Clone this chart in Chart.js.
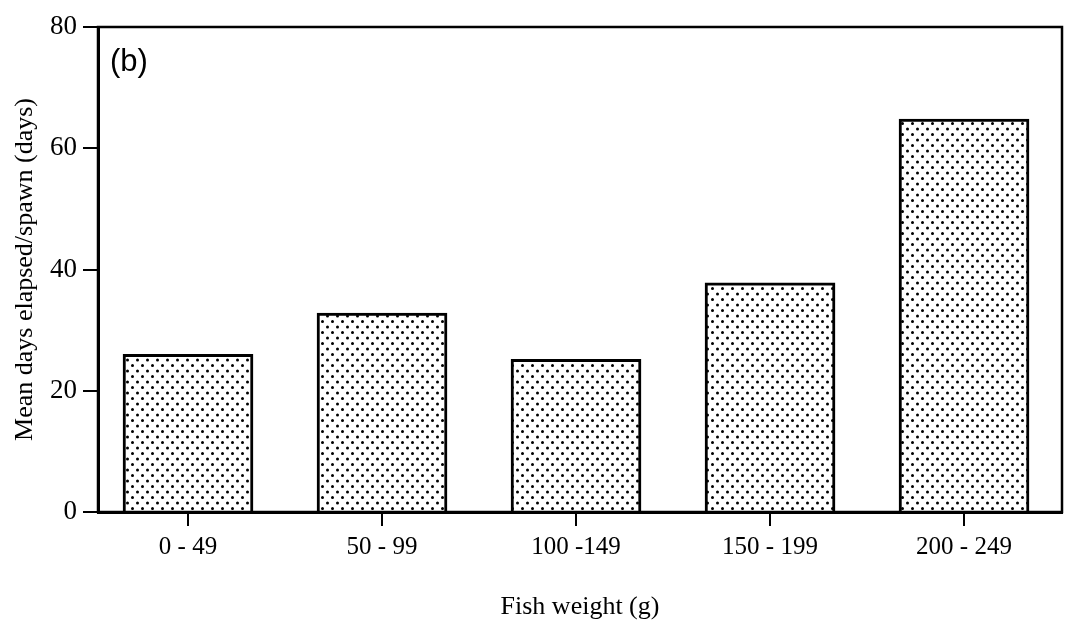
<!DOCTYPE html>
<html>
<head>
<meta charset="utf-8">
<script src="https://cdn.jsdelivr.net/npm/chart.js@4.4.1/dist/chart.umd.min.js"></script>
<style>
  html, body { margin: 0; padding: 0; background: #fff; }
  #wrap { width: 1067px; height: 625px; }
</style>
</head>
<body>
<div id="wrap"><canvas id="c"></canvas></div>
<script>
// datos (b)
const categories = ['0 - 49', '50 - 99', '100 -149', '150 - 199', '200 - 249'];
const meanDays = [26, 32.8, 25.2, 37.8, 64.8];
const yTicks = [0, 20, 40, 60, 80];

const serif = 'Liberation Serif';
const canvas = document.getElementById('c');
const ctx = canvas.getContext('2d');

// relleno punteado como en el original
function dotPattern() {
  const p = document.createElement('canvas');
  p.width = 10;
  p.height = 11;
  const g = p.getContext('2d');
  g.fillStyle = '#fff';
  g.fillRect(0, 0, 10, 11);
  g.fillStyle = '#000';
  g.beginPath();
  g.arc(2.5, 2.5, 1.5, 0, Math.PI * 2);
  g.arc(7.5, 8, 1.5, 0, Math.PI * 2);
  g.fill();
  return ctx.createPattern(p, 'repeat');
}

// marco del area y la etiqueta (b)
const framePlugin = {
  id: 'frame',
  afterDatasetsDraw(chart) {
    const c = chart.ctx;
    const a = chart.chartArea;
    c.save();
    c.strokeStyle = '#000';
    c.lineWidth = 2.5;
    c.strokeRect(a.left, a.top, a.right - a.left, a.bottom - a.top);
    c.fillStyle = '#000';
    c.font = '31px "Liberation Sans"';
    c.textBaseline = 'top';
    c.fillText('(b)', a.left + 12, a.top + 20);
    c.restore();
  }
};

new Chart(canvas, {
  type: 'bar',
  data: {
    datasets: [{
      data: meanDays.map((v, i) => ({ x: i, y: v })),
      backgroundColor: dotPattern(),
      borderColor: '#000',
      borderWidth: 3,
      barThickness: 130
    }]
  },
  options: {
    responsive: true,
    maintainAspectRatio: false,
    animation: false,
    layout: { padding: { top: 27, right: 5, left: 0, bottom: 0 } },
    scales: {
      x: {
        type: 'linear',
        offset: false,
        min: -0.464,
        max: 4.505,
        afterBuildTicks: s => { s.ticks = categories.map((c, i) => ({ value: i })); },
        afterFit: s => { s.height = 113; },
        grid: { offset: false, drawOnChartArea: false, tickLength: 14, color: '#000', lineWidth: 2 },
        border: { color: '#000', width: 3 },
        ticks: {
          callback: v => categories[v],
          color: '#000',
          font: { family: serif, size: 25 },
          padding: 6,
          maxRotation: 0
        },
        title: {
          display: true,
          text: 'Fish weight (g)',
          color: '#000',
          font: { family: serif, size: 26 },
          padding: { top: 0, bottom: 2 }
        }
      },
      y: {
        min: 0,
        max: 80,
        afterBuildTicks: s => { s.ticks = yTicks.map(v => ({ value: v })); },
        afterFit: s => { s.width = 98; },
        grid: { drawOnChartArea: false, tickLength: 15, color: '#000', lineWidth: 2 },
        border: { color: '#000', width: 3 },
        ticks: {
          color: '#000',
          font: { family: serif, size: 27 },
          padding: 6
        },
        title: {
          display: true,
          text: 'Mean days elapsed/spawn (days)',
          color: '#000',
          font: { family: serif, size: 26 },
          padding: { top: 10, bottom: 0 }
        }
      }
    },
    plugins: {
      legend: { display: false },
      tooltip: { enabled: false }
    }
  },
  plugins: [framePlugin]
});
</script>
</body>
</html>
